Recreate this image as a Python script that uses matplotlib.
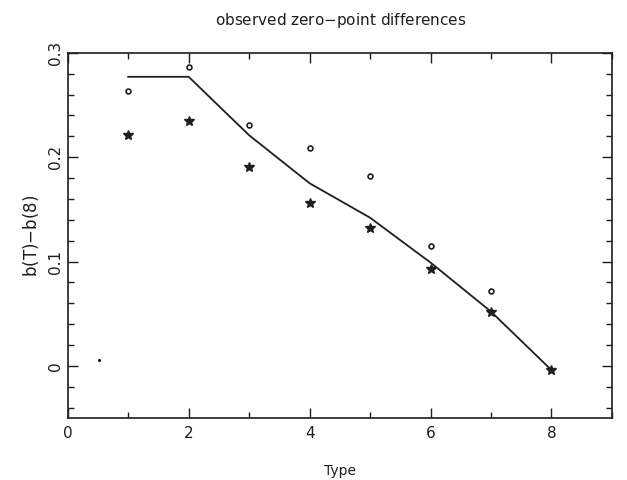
import numpy as np
import matplotlib.pyplot as plt
from matplotlib.ticker import MultipleLocator, FixedLocator, FixedFormatter

# data
types = [1, 2, 3, 4, 5, 6, 7, 8]
circles = [0.263, 0.286, 0.231, 0.209, 0.182, 0.115, 0.072]
stars = [0.221, 0.235, 0.191, 0.156, 0.132, 0.093, 0.052, -0.004]
model = [0.277, 0.277, 0.221, 0.175, 0.142, 0.099, 0.052, -0.004]
stray_x = [0.51]
stray_y = [0.006]

ink = '#1e1e1e'

fig = plt.figure(figsize=(6.27, 4.8), dpi=100)
ax = fig.add_axes([0.108, 0.129, 0.868, 0.761])

ax.plot(types, model, color=ink, lw=1.3)
ax.plot(types[:7], circles, 'o', ms=3.5, mfc='white', mec=ink, mew=1.2)
ax.plot(types, stars, '*', ms=7, color=ink)
ax.plot(stray_x, stray_y, '.', ms=2.5, color=ink)

ax.set_xlim(0, 9)
ax.set_ylim(-0.05, 0.3)

ax.xaxis.set_major_locator(MultipleLocator(2))
ax.xaxis.set_minor_locator(MultipleLocator(1))
ax.yaxis.set_major_locator(FixedLocator([0, 0.1, 0.2, 0.3]))
ax.yaxis.set_major_formatter(FixedFormatter(['0', '0.1', '0.2', '0.3']))
ax.yaxis.set_minor_locator(MultipleLocator(0.02))
ax.tick_params(which='both', direction='in', top=True, right=True, color=ink)
ax.tick_params(which='major', length=7, width=1)
ax.tick_params(which='minor', length=4, width=1)
ax.tick_params(axis='both', labelsize=11, labelcolor=ink)
ax.tick_params(axis='x', pad=6)
for lab in ax.get_yticklabels():
    lab.set_rotation(90)
    lab.set_va('center')
for s in ax.spines.values():
    s.set_color(ink)
    s.set_linewidth(1.2)

ax.set_xlabel('Type', fontsize=10, color=ink, labelpad=16)
ax.set_ylabel('b(T)$-$b(8)', fontsize=12, color=ink, labelpad=5)
fig.text(0.544, 0.958, 'observed zero$-$point differences', ha='center',
         va='center', fontsize=11, color=ink)

fig.savefig('out.png', dpi=100)
